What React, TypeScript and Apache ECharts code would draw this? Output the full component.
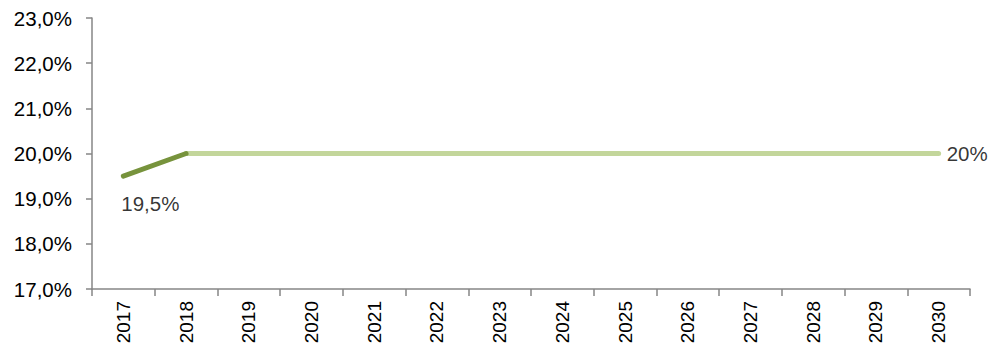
import React, { useEffect, useRef } from "react";
import * as echarts from "echarts";

const years = ["2017","2018","2019","2020","2021","2022","2023","2024","2025","2026","2027","2028","2029","2030"];
const actualValues: (number | null)[] = [19.5, 20, null, null, null, null, null, null, null, null, null, null, null, null];
const targetValues: (number | null)[] = [null, 20, 20, 20, 20, 20, 20, 20, 20, 20, 20, 20, 20, 20];
const yTicks = { min: 17, max: 23, interval: 1 };

export default function App() {
  const ref = useRef<HTMLDivElement>(null);
  useEffect(() => {
    if (!ref.current) return;
    const chart = echarts.init(ref.current, null, { renderer: "svg" });
    const font = "Liberation Sans, Arial, sans-serif";
    chart.setOption({
      animation: false,
      grid: { left: 92, top: 18, right: 29, bottom: 61 },
      xAxis: {
        type: "category",
        data: years,
        boundaryGap: true,
        axisLine: { lineStyle: { color: "#868686", width: 1.5 } },
        axisTick: { show: true, length: 7, lineStyle: { color: "#868686", width: 1.5 } },
        axisLabel: { rotate: 90, margin: 12, color: "#000", fontSize: 19, fontFamily: font },
        splitLine: { show: false },
      },
      yAxis: {
        type: "value",
        min: yTicks.min,
        max: yTicks.max,
        interval: yTicks.interval,
        axisLine: { show: true, lineStyle: { color: "#868686", width: 1.5 } },
        axisTick: { show: true, length: 6, lineStyle: { color: "#868686", width: 1.5 } },
        axisLabel: {
          margin: 20,
          color: "#000",
          fontSize: 20.5,
          fontFamily: font,
          formatter: (v: number) => v.toFixed(1).replace(".", ",") + "%",
        },
        splitLine: { show: false },
      },
      series: [
        {
          type: "line",
          data: actualValues,
          symbol: "none",
          lineStyle: { color: "#77933C", width: 5, cap: "round" },
          emphasis: { disabled: true },
          z: 3,
        },
        {
          type: "line",
          data: targetValues,
          symbol: "none",
          lineStyle: { color: "#C3D69B", width: 5, cap: "round" },
          emphasis: { disabled: true },
          z: 2,
        },
        {
          type: "scatter",
          data: actualValues.map((v, i) => (i === 0 ? v : null)),
          symbolSize: 0,
          label: {
            show: true,
            position: "bottom",
            offset: [27, 12],
            formatter: (p: any) => String(p.value).replace(".", ",") + "%",
            color: "#000",
            fontSize: 20.5,
            fontFamily: font,
          },
          silent: true,
        },
        {
          type: "scatter",
          data: targetValues.map((v, i) => (i === years.length - 1 ? v : null)),
          symbolSize: 0,
          label: {
            show: true,
            position: "right",
            distance: 8,
            formatter: (p: any) => String(p.value).replace(".", ",") + "%",
            color: "#000",
            fontSize: 20.5,
            fontFamily: font,
          },
          silent: true,
        },
      ],
    });
    return () => chart.dispose();
  }, []);
  return <div ref={ref} style={{ width: 999, height: 350, position: "absolute", left: 0, top: 0 }} />;
}
